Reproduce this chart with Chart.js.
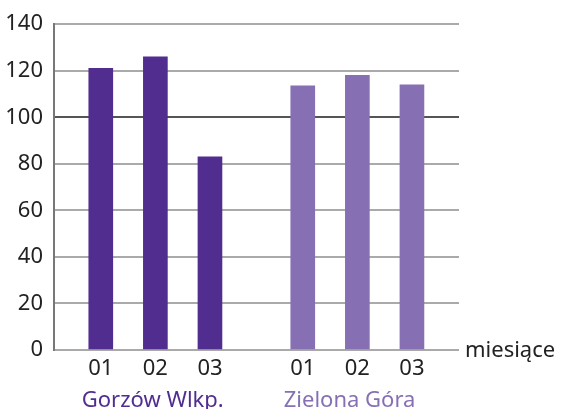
<!DOCTYPE html>
<html>
<head>
<meta charset="utf-8">
<script src="https://cdn.jsdelivr.net/npm/chart.js@4"></script>
<style>
  html, body { margin: 0; padding: 0; background: #fff; }
  canvas { display: block; }
</style>
</head>
<body>
<canvas id="salesChart" width="563" height="409"></canvas>
<script>
// Data
const cities = ['Gorzów Wlkp.', 'Zielona Góra'];
const months = ['01', '02', '03'];
const gorzowValues = [121, 126, 83];
const zielonaValues = [113.5, 118, 114];
const yTicks = [0, 20, 40, 60, 80, 100, 120, 140];
const axisTitle = 'miesiące';

const cityColors = ['#512d8f', '#8670b3'];
const GROUP_GAP = 1.7; // distance between last bar of one city and first of the next
const FONT = "'Noto Sans', sans-serif";

// x position of a bar on the linear scale
function barPos(group, month) {
  return group * (months.length - 1 + GROUP_GAP) + month + 1;
}

const seriesValues = [gorzowValues, zielonaValues];
const datasets = seriesValues.map((vals, g) => ({
  label: cities[g],
  data: vals.map((v, m) => ({ x: barPos(g, m), y: v })),
  backgroundColor: cityColors[g],
  barThickness: 24,
  grouped: false
}));

const tickPositions = [];
const tickLabels = {};
cities.forEach((c, g) => months.forEach((m, i) => {
  tickPositions.push(barPos(g, i));
  tickLabels[barPos(g, i).toFixed(2)] = m;
}));

const extraLabels = {
  id: 'extraLabels',
  afterDraw(chart) {
    const { ctx, chartArea, scales } = chart;
    const x = scales.x;
    ctx.save();
    ctx.font = '22px ' + FONT;
    ctx.textBaseline = 'alphabetic';
    ctx.textAlign = 'left';
    cities.forEach((c, g) => {
      ctx.fillStyle = cityColors[g];
      const left = x.getPixelForValue(barPos(g, 0)) - 12 - 7;
      ctx.fillText(c, left, 407);
    });
    ctx.fillStyle = '#222';
    ctx.fillText(axisTitle, chartArea.right + 6, chartArea.bottom + 7);
    ctx.restore();
  }
};

const ctx = document.getElementById('salesChart').getContext('2d');
new Chart(ctx, {
  type: 'bar',
  data: { datasets },
  options: {
    responsive: false,
    animation: false,
    layout: { padding: { left: 0, right: 104, top: 24, bottom: 0 } },
    plugins: {
      legend: { display: false },
      tooltip: { enabled: false }
    },
    scales: {
      x: {
        type: 'linear',
        offset: false,
        min: 0.143,
        max: 7.562,
        grid: { display: false, drawTicks: false },
        border: { display: false },
        afterBuildTicks: scale => {
          scale.ticks = tickPositions.map(v => ({ value: v }));
        },
        afterFit: scale => { scale.height = 59; },
        ticks: {
          autoSkip: false,
          maxRotation: 0,
          padding: 6,
          color: '#222',
          font: { family: FONT, size: 22 },
          callback: v => tickLabels[Number(v).toFixed(2)] || ''
        }
      },
      y: {
        min: 0,
        max: 140,
        afterBuildTicks: scale => {
          scale.ticks = yTicks.map(v => ({ value: v }));
        },
        afterFit: scale => { scale.width = 54; },
        grid: {
          drawTicks: false,
          lineWidth: 2,
          color: c => (c.tick && c.tick.value === 100 ? '#555' : '#aaa')
        },
        border: { color: '#777', width: 2 },
        ticks: {
          padding: 11,
          color: '#222',
          font: { family: FONT, size: 22 }
        }
      }
    }
  },
  plugins: [extraLabels]
});
</script>
</body>
</html>
